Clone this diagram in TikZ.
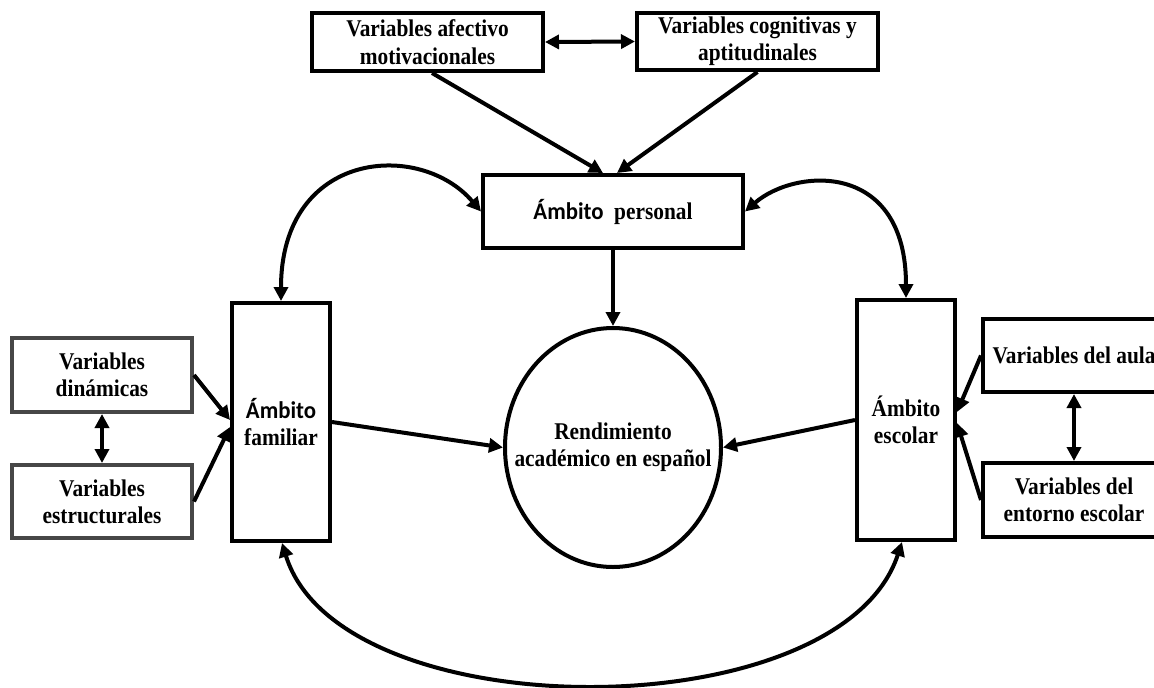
\documentclass[tikz,border=0pt]{standalone}
\usepackage{fontspec}
\setmainfont{Liberation Serif}[FakeStretch=0.89]
\newfontfamily\calib{Carlito}[FakeStretch=0.95]
\usetikzlibrary{arrows.meta,shapes.geometric}
\begin{document}
\begin{tikzpicture}[x=0.75pt,y=-0.75pt,
  txt/.style={align=center,font=\fontsize{18}{20.5}\selectfont\bfseries},
  box/.style={txt,draw=black,line width=3pt,rectangle,inner sep=0pt,fill=white},
  gbox/.style={box,draw=black!72},
  tip/.tip={Triangle[length=10.5pt,width=10.5pt]},
  conn/.style={line width=3pt,-tip},
  dconn/.style={line width=3pt,tip-tip}
]
\useasboundingbox (0,0) rectangle (1154,687);
\clip (0,0) rectangle (1154,687);

\node[box,minimum width=173.25pt,minimum height=43.5pt] (A) at (427.5,42) {Variables afectivo\\motivacionales};
\node[box,minimum width=180.75pt,minimum height=42.75pt] (B) at (757.5,41.5) {Variables cognitivas y\\aptitudinales};
\node[box,minimum width=195pt,minimum height=54.75pt] (P) at (613,211.5) {{\calib Ámbito}\ \ personal};
\node[draw=black,line width=3pt,ellipse,inner sep=0pt,minimum width=162pt,minimum height=179.25pt] (C) at (613,447.5) {};
\node[txt] (CT) at (C.center) {Rendimiento\\académico en español};
\node[box,minimum width=73.5pt,minimum height=178.5pt] (F) at (281,422) {{\calib Ámbito}\\familiar};
\node[box,minimum width=73.5pt,minimum height=180pt] (E) at (906,420) {Ámbito\\escolar};
\node[gbox,minimum width=135pt,minimum height=55.5pt] (D) at (102,375) {Variables\\dinámicas};
\node[gbox,minimum width=135pt,minimum height=54.75pt] (S) at (102,501.5) {Variables\\estructurales};
\node[box,minimum width=136.5pt,minimum height=54.75pt] (AU) at (1074,355.5) {Variables del aula};
\node[box,minimum width=136.5pt,minimum height=55.5pt] (EN) at (1074,500) {Variables del\\entorno escolar};

\draw[dconn] (A.east) -- (B.west);
\draw[conn] ([xshift=3.4pt]A.south) -- ([xshift=-7.5pt]P.north);
\draw[conn] (B.south) -- ([xshift=3pt]P.north);
\draw[conn] (P.south) -- (C.north);
\draw[conn] (F.east) -- (C.west);
\draw[conn] (E.west) -- (C.east);
\draw[conn] (D.east) -- ([yshift=1.5pt]F.west);
\draw[conn] (S.east) -- ([yshift=-3.75pt]F.west);
\draw[conn] (AU.west) -- ([yshift=6pt]E.east);
\draw[conn] (EN.west) -- ([yshift=-2.25pt]E.east);
\draw[dconn] (D.south) -- (S.north);
\draw[dconn] (AU.south) -- (EN.north);
\draw[dconn] (F.north) .. controls (281,150) and (420,140) .. (P.west);
\draw[dconn] (E.north) .. controls (906,160) and (795,168) .. (P.east);
\draw[dconn] ([xshift=0.75pt]F.south) .. controls (340,731) and (840,731) .. ([xshift=-3pt]E.south);
\end{tikzpicture}
\end{document}
